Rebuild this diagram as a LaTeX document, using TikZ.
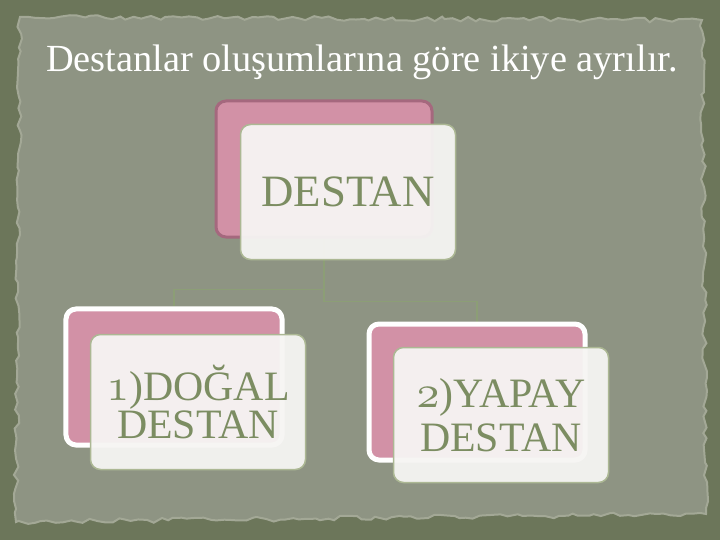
\documentclass[tikz,border=0pt]{standalone}
\usepackage{fontspec}
\setmainfont{Liberation Serif}
\usetikzlibrary{decorations.pathmorphing}

\definecolor{frameolive}{RGB}{108,118,90}
\definecolor{paper}{RGB}{142,148,131}
\definecolor{paperrim}{RGB}{163,168,150}
\definecolor{cardpink}{RGB}{210,145,166}
\definecolor{pinkrim}{RGB}{165,104,126}
\definecolor{cardwhite}{RGB}{246,245,243}
\definecolor{cardrim}{RGB}{172,184,148}
\definecolor{textgreen}{RGB}{124,141,98}
\definecolor{linkgreen}{RGB}{140,158,118}

\DeclareFontFamily{OML}{oldnumfam}{\skewchar\font=127}
\DeclareFontShape{OML}{oldnumfam}{m}{it}{<->cmmi10}{}
\newcommand{\oldnum}[1]{{\fontsize{46}{38}\usefont{OML}{oldnumfam}{m}{it}#1}}

\pgfdeclarelayer{paperlayer}
\pgfdeclarelayer{linklayer}
\pgfsetlayers{paperlayer,linklayer,main}

\begin{document}
\begin{tikzpicture}[x=1bp, y=-1bp,
backcard/.style={rectangle, rounded corners=10bp, fill=cardpink, minimum width=216bp, minimum height=136bp},
rootback/.style={backcard, draw=pinkrim, line width=3bp},
leafback/.style={backcard, draw=white, line width=5bp},
frontcard/.style={rectangle, rounded corners=10bp, fill=cardwhite, fill opacity=0.95, text opacity=1, draw=cardrim, line width=1.5bp, minimum width=215bp, minimum height=135bp, text=textgreen, align=center, font=\fontsize{42}{38}\selectfont},
link/.style={draw=linkgreen, line width=1.5bp},
]
\useasboundingbox (0,0) rectangle (720,540);

%Paper
\begin{pgfonlayer}{paperlayer}
\fill[frameolive] (0,0) rectangle (720,540);
\pgfmathsetseed{11}
\filldraw[fill=paper, draw=paperrim, line width=2bp, decorate, decoration={random steps, segment length=7bp, amplitude=2.5bp}]
  (20,17) -- (702,20) -- (706,514) -- (16,522) -- cycle;
\end{pgfonlayer}

%Title
\node[text=white, font=\fontsize{38.5}{44}\selectfont] (title) at (362,62) {Destanlar oluşumlarına göre ikiye ayrılır.};

%Nodes
\node[rootback]  (destanback) at (324,169) {};
\node[frontcard, font=\fontsize{45}{40}\selectfont] (destan) at (348,192) {DESTAN};
\node[leafback]  (dogalback)  at (174,377) {};
\node[frontcard] (dogal)      at (198,402) {\oldnum{1})DOĞAL\\DESTAN};
\node[leafback]  (yapayback)  at (477,392) {};
\node[frontcard, font=\fontsize{42}{44}\selectfont] (yapay) at (501,415) {\oldnum{2})YAPAY\\DESTAN};

%Lines
\begin{pgfonlayer}{linklayer}
\draw[link] (destanback.south) -- ++(0,51) -| (dogalback.north);
\draw[link] (destanback.south) -- ++(0,63) -| (yapayback.north);
\end{pgfonlayer}
\end{tikzpicture}
\end{document}
